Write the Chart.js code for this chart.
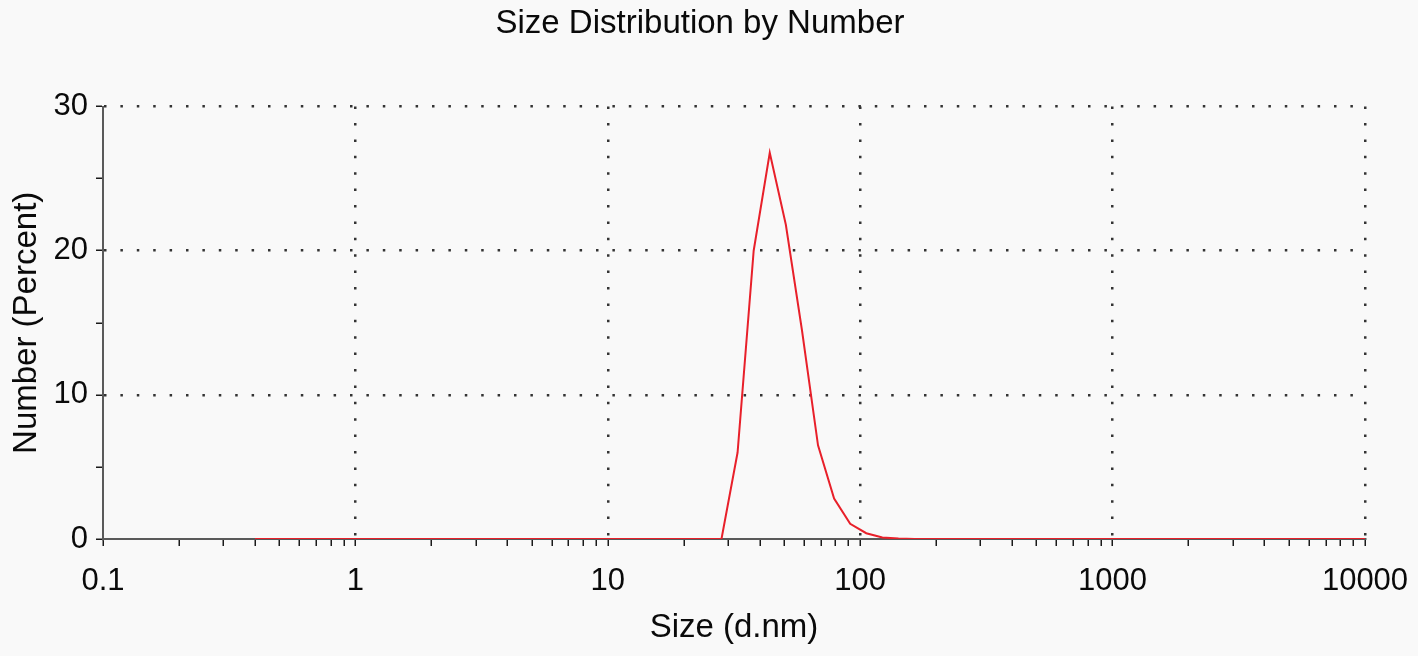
<!DOCTYPE html>
<html>
<head>
<meta charset="utf-8">
<script src="https://cdn.jsdelivr.net/npm/chart.js@4/dist/chart.umd.min.js"></script>
<style>
  html, body { margin: 0; padding: 0; background: #f9f9f9; }
  #wrap { width: 1418px; height: 656px; }
</style>
</head>
<body>
<div id="wrap"><canvas id="myChart" width="1418" height="656"></canvas></div>
<script>
// Size bins (d.nm) as reported by the instrument
var sizes = [0.4, 0.4632, 0.5365, 0.6213, 0.7195, 0.8332, 0.9649, 1.117, 1.294, 1.499,
  1.736, 2.01, 2.328, 2.696, 3.122, 3.615, 4.187, 4.849, 5.615, 6.503,
  7.531, 8.721, 10.1, 11.7, 13.54, 15.69, 18.17, 21.04, 24.36, 28.21,
  32.67, 37.84, 43.82, 50.75, 58.77, 68.06, 78.82, 91.28, 105.7, 122.4,
  141.8, 164.2, 190.1, 220.2, 255.0, 295.3, 342.0, 396.1, 458.7, 531.2,
  615.1, 712.4, 825.0, 955.4, 1106, 1281, 1484, 1718, 1990, 2305,
  2669, 3091, 3580, 4145, 4801, 5560, 6439, 7456, 8635, 10000];
// Number (Percent) per bin
var numberPct = [0, 0, 0, 0, 0, 0, 0, 0, 0, 0,
  0, 0, 0, 0, 0, 0, 0, 0, 0, 0,
  0, 0, 0, 0, 0, 0, 0, 0, 0, 0,
  6.0, 20.0, 26.8, 21.8, 14.5, 6.5, 2.8, 1.05, 0.4, 0.1,
  0.03, 0, 0, 0, 0, 0, 0, 0, 0, 0,
  0, 0, 0, 0, 0, 0, 0, 0, 0, 0,
  0, 0, 0, 0, 0, 0, 0, 0, 0, 0];

var xMajor = [0.1, 1, 10, 100, 1000, 10000];
var xMinorSteps = [2, 3, 4, 5, 6, 7, 8, 9];
var yTicks = [0, 5, 10, 15, 20, 25, 30];
var yLabels = [0, 10, 20, 30];

var FONT = "'Liberation Sans', Arial, sans-serif";
var dotColor = '#333333';
var axisColor = '#5a5a5a';
var tickColor = '#1a1a1a';
var textColor = '#0a0a0a';

var points = [];
for (var i = 0; i < sizes.length; i++) {
  points.push({ x: sizes[i], y: numberPct[i] });
}

// major decades plus 2..9 minor marks in between
var xTickList = [];
for (var m = 0; m < xMajor.length; m++) {
  xTickList.push(xMajor[m]);
  if (m < xMajor.length - 1) {
    for (var k = 0; k < xMinorSteps.length; k++) {
      xTickList.push(+(xMajor[m] * xMinorSteps[k]).toPrecision(3));
    }
  }
}

var bgPlugin = {
  id: 'bg',
  beforeDraw: function (chart) {
    var c = chart.ctx;
    c.save();
    c.fillStyle = '#f9f9f9';
    c.fillRect(0, 0, chart.width, chart.height);
    c.restore();
  }
};

var ctx = document.getElementById('myChart').getContext('2d');
var chart = new Chart(ctx, {
  type: 'line',
  data: {
    datasets: [{
      label: 'Number',
      data: points,
      borderColor: '#e8202a',
      borderWidth: 2,
      pointRadius: 0,
      fill: false,
      tension: 0
    }]
  },
  options: {
    responsive: false,
    animation: false,
    layout: { padding: { left: 35, right: 53, top: 0, bottom: 0 } },
    plugins: {
      legend: { display: false },
      tooltip: { enabled: false },
      title: {
        display: true,
        text: 'Size Distribution by Number',
        color: textColor,
        font: { family: FONT, size: 33, weight: 'normal' },
        padding: { top: 4, bottom: 63 }
      }
    },
    scales: {
      x: {
        type: 'logarithmic',
        min: 0.1,
        max: 10000,
        afterBuildTicks: function (scale) {
          scale.ticks = xTickList.map(function (v) { return { value: v }; });
        },
        afterFit: function (scale) {
          scale.height = 117;
          scale.paddingLeft = 0;
          scale.paddingRight = 0;
        },
        ticks: {
          autoSkip: false,
          maxRotation: 0,
          padding: 17,
          color: textColor,
          font: { family: FONT, size: 31 },
          callback: function (v) {
            return xMajor.indexOf(v) >= 0 ? String(v) : '';
          }
        },
        grid: {
          color: function (c) {
            if (!c.tick) return 'transparent';
            var v = c.tick.value;
            return (xMajor.indexOf(v) >= 0 && v !== 0.1) ? dotColor : 'transparent';
          },
          lineWidth: 2.5,
          tickColor: tickColor,
          tickWidth: 1.5,
          tickLength: 7
        },
        border: { display: true, color: axisColor, width: 2, dash: [2.5, 13.9] },
        title: {
          display: true,
          text: 'Size (d.nm)',
          color: textColor,
          font: { family: FONT, size: 33 },
          padding: { top: 0, bottom: 8 }
        }
      },
      y: {
        type: 'linear',
        min: 0,
        max: 30,
        afterBuildTicks: function (scale) {
          scale.ticks = yTicks.map(function (v) { return { value: v }; });
        },
        afterFit: function (scale) {
          scale.width = 68;
          scale.paddingTop = 0;
          scale.paddingBottom = 0;
        },
        ticks: {
          padding: 8,
          color: textColor,
          font: { family: FONT, size: 31 },
          callback: function (v) {
            return yLabels.indexOf(v) >= 0 ? String(v) : '';
          }
        },
        grid: {
          color: function (c) {
            if (!c.tick) return 'transparent';
            var v = c.tick.value;
            return (yLabels.indexOf(v) >= 0 && v !== 0) ? dotColor : 'transparent';
          },
          lineWidth: 2.5,
          tickColor: tickColor,
          tickWidth: 1.5,
          tickLength: 7
        },
        border: { display: true, color: axisColor, width: 2, dash: [2.5, 13.9] },
        title: {
          display: true,
          text: 'Number (Percent)',
          color: textColor,
          font: { family: FONT, size: 33 },
          padding: { top: -28, bottom: 0 }
        }
      }
    }
  },
  plugins: [bgPlugin]
});
</script>
</body>
</html>
